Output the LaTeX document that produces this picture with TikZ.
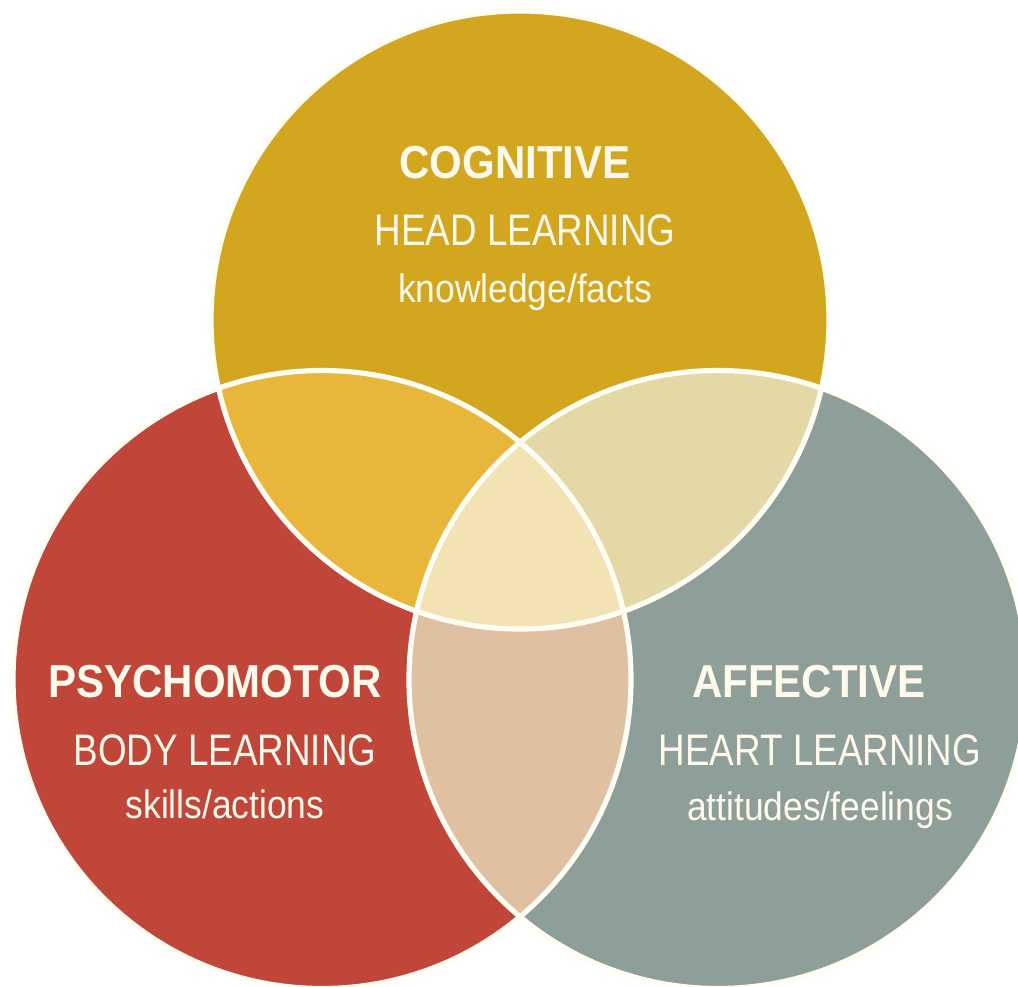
\documentclass[tikz,border=0pt]{standalone}
\usepackage{fontspec}
\usepackage{graphicx}
\setmainfont{Liberation Sans}
\definecolor{cgold}{HTML}{D3A620}
\definecolor{cred}{HTML}{C0463A}
\definecolor{cgray}{HTML}{8E9E98}
\definecolor{cgoldred}{HTML}{E8B63B}
\definecolor{cgoldgray}{HTML}{E3D8A6}
\definecolor{credgray}{HTML}{DFC1A2}
\definecolor{ccenter}{HTML}{F3E2B4}
\definecolor{edge}{HTML}{FFFDF4}
\definecolor{txt}{HTML}{FFF9EC}
\newcommand{\vsT}[1]{\scalebox{1}[1.1]{#1}}
\newcommand{\vsS}[1]{\scalebox{1}[1.2]{#1}}
\newcommand{\vsD}[1]{\scalebox{1}[1.12]{#1}}
\begin{document}
\begin{tikzpicture}[x=0.5pt,y=-0.5pt,
  title/.style={anchor=base, inner sep=0pt, text=txt, font=\fontsize{21}{25}\selectfont\bfseries},
  sub/.style={anchor=base, inner sep=0pt, text=txt, font=\fontsize{18.4}{22}\selectfont},
  desc/.style={anchor=base, inner sep=0pt, text=txt, font=\fontsize{17.7}{21}\selectfont},
  border/.style={draw=edge, line width=2.6pt}]
\useasboundingbox (0,0) rectangle (1018,986);
\clip (0,0) rectangle (1018,986);
\fill[white] (0,0) rectangle (1018,986);
\coordinate (G) at (520,320);
\coordinate (R) at (322,679.5);
\coordinate (A) at (718,679.5);
\def\rad{154.5pt}
% circles
\fill[cgold] (G) circle[radius=\rad];
\fill[cred] (R) circle[radius=\rad];
\fill[cgray] (A) circle[radius=\rad];
% pairwise overlaps
\begin{scope}
  \clip (G) circle[radius=\rad];
  \fill[cgoldred] (R) circle[radius=\rad];
  \fill[cgoldgray] (A) circle[radius=\rad];
\end{scope}
\begin{scope}
  \clip (R) circle[radius=\rad];
  \fill[credgray] (A) circle[radius=\rad];
\end{scope}
% centre
\begin{scope}
  \clip (G) circle[radius=\rad];
  \clip (R) circle[radius=\rad];
  \fill[ccenter] (A) circle[radius=\rad];
\end{scope}
% white outlines
\draw[border] (G) circle[radius=\rad];
\draw[border] (R) circle[radius=\rad];
\draw[border] (A) circle[radius=\rad];
% texts
\node[title] (ct) at (515,178) {\vsT{COGNITIVE}};
\node[sub]   (cs) at (525,245) {\vsS{HEAD LEARNING}};
\node[desc]  (cd) at (525,302) {\vsD{knowledge/facts}};
\node[title] (pt) at (215,697) {\vsT{PSYCHOMOTOR}};
\node[sub]   (ps) at (225,765) {\vsS{BODY LEARNING}};
\node[desc]  (pd) at (225,818) {\vsD{skills/actions}};
\node[title] (at) at (809,697) {\vsT{AFFECTIVE}};
\node[sub]   (as) at (820,765) {\vsS{HEART LEARNING}};
\node[desc]  (ad) at (820,820) {\vsD{attitudes/feelings}};
\end{tikzpicture}
\end{document}
